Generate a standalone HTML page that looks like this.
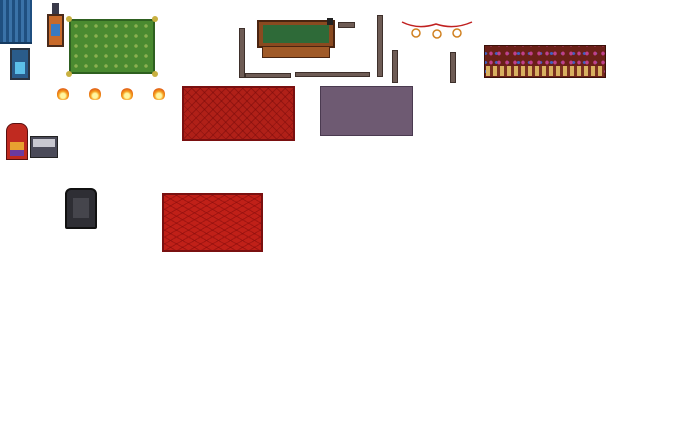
<!DOCTYPE html>
<html><head><style>
body{margin:0;width:680px;height:435px;background:#fff;position:relative;overflow:hidden;font-family:"Liberation Sans",sans-serif}
div{position:absolute;box-sizing:border-box}
.fl{width:12px;height:12px;border-radius:50% 50% 40% 40%;background:radial-gradient(circle at 50% 65%,#fff6a0 0 25%,#f5a020 45%,#e05a10 75%,transparent 80%)}
.w{background:#6e5c55;border:1px solid #3e302b}
</style></head><body>
<!-- curtain -->
<div style="left:0;top:0;width:32px;height:44px;background:repeating-linear-gradient(90deg,#1f4f80 0 3px,#3a72a8 3px 6px);border-bottom:2px solid #153a60"></div>
<div style="left:10px;top:48px;width:20px;height:32px;background:#2a5c8a;border:2px solid #2b3440"><div style="left:3px;top:12px;width:10px;height:12px;background:#5cc0e8"></div></div>
<!-- arcade -->
<div style="left:52px;top:3px;width:7px;height:12px;background:#3a3a4a"></div>
<div style="left:47px;top:14px;width:17px;height:33px;background:#c86a2a;border:2px solid #4a2a1a"><div style="left:2px;top:8px;width:9px;height:12px;background:#3a7ac0"></div></div>
<!-- green rug -->
<div style="left:69px;top:19px;width:86px;height:55px;background:#4a8a30;border:2px solid #2e6020;background-image:radial-gradient(#8ab050 1.5px,transparent 2px);background-size:10px 10px"></div>
<div style="left:66px;top:16px;width:6px;height:6px;background:#c8b040;border-radius:50%"></div>
<div style="left:152px;top:16px;width:6px;height:6px;background:#c8b040;border-radius:50%"></div>
<div style="left:66px;top:71px;width:6px;height:6px;background:#c8b040;border-radius:50%"></div>
<div style="left:152px;top:71px;width:6px;height:6px;background:#c8b040;border-radius:50%"></div>
<!-- flames -->
<div class="fl" style="left:57px;top:88px"></div>
<div class="fl" style="left:89px;top:88px"></div>
<div class="fl" style="left:121px;top:88px"></div>
<div class="fl" style="left:153px;top:88px"></div>
<!-- red rug 1 -->
<div style="left:182px;top:86px;width:113px;height:55px;background:#b02018;border:2px solid #7a1010;background-image:repeating-linear-gradient(45deg,transparent 0 5px,rgba(120,10,10,.5) 5px 6px),repeating-linear-gradient(-45deg,transparent 0 5px,rgba(120,10,10,.5) 5px 6px)"></div>
<!-- purple rug -->
<div style="left:320px;top:86px;width:93px;height:50px;background:#6e5a72;border:1px solid #4a3a50"></div>
<!-- pool table -->
<div style="left:257px;top:20px;width:78px;height:28px;background:#8a4a20;border:2px solid #4a2410"><div style="left:4px;top:3px;width:66px;height:18px;background:#2e6a38"></div></div>
<div style="left:262px;top:46px;width:68px;height:12px;background:#a05a28;border:1px solid #4a2410"></div>
<div style="left:327px;top:18px;width:6px;height:7px;background:#222"></div>
<!-- walls -->
<div class="w" style="left:239px;top:28px;width:6px;height:50px"></div>
<div class="w" style="left:245px;top:73px;width:46px;height:5px"></div>
<div class="w" style="left:295px;top:72px;width:75px;height:5px"></div>
<div class="w" style="left:338px;top:22px;width:17px;height:6px"></div>
<div class="w" style="left:377px;top:15px;width:6px;height:62px"></div>
<div class="w" style="left:392px;top:50px;width:6px;height:33px"></div>
<div class="w" style="left:450px;top:52px;width:6px;height:31px"></div>
<!-- lights -->
<svg style="position:absolute;left:400px;top:18px" width="74" height="24"><path d="M2 4 Q18 12 36 6 Q54 12 72 4" stroke="#c02020" fill="none" stroke-width="1.5"/><circle cx="16" cy="15" r="4" fill="#fff" stroke="#d08020" stroke-width="1.5"/><circle cx="37" cy="16" r="4" fill="#fff" stroke="#d08020" stroke-width="1.5"/><circle cx="57" cy="15" r="4" fill="#fff" stroke="#d08020" stroke-width="1.5"/></svg>
<!-- shelf -->
<div style="left:484px;top:45px;width:122px;height:33px;background:#6a2018;border:1px solid #3a1008;background-image:radial-gradient(#c0408a 1.5px,transparent 2px),radial-gradient(#4060c0 1.5px,transparent 2px);background-size:8px 9px,11px 9px;background-position:2px 3px,6px 3px"></div>
<div style="left:486px;top:66px;width:118px;height:10px;background:repeating-linear-gradient(90deg,#d8b060 0 4px,#7a3020 4px 7px)"></div>
<!-- jukebox -->
<div style="left:6px;top:123px;width:22px;height:37px;background:#c02a20;border:1px solid #5a1010;border-radius:8px 8px 0 0"><div style="left:3px;top:18px;width:14px;height:8px;background:#e8a030"></div><div style="left:3px;top:26px;width:14px;height:6px;background:#6a3aa0"></div></div>
<div style="left:30px;top:136px;width:28px;height:22px;background:#4a4a58;border:1px solid #222"><div style="left:2px;top:2px;width:22px;height:8px;background:#c8c8d0"></div></div>
<!-- armchair -->
<div style="left:65px;top:188px;width:32px;height:41px;background:#2e2e34;border:2px solid #111;border-radius:6px 6px 2px 2px"><div style="left:6px;top:8px;width:16px;height:20px;background:#45454c"></div></div>
<!-- red rug 2 -->
<div style="left:162px;top:193px;width:101px;height:59px;background:#c02018;border:2px solid #7a1010;background-image:repeating-linear-gradient(30deg,transparent 0 5px,rgba(130,10,10,.5) 5px 6px),repeating-linear-gradient(-30deg,transparent 0 5px,rgba(130,10,10,.5) 5px 6px)"></div>
</body></html>
